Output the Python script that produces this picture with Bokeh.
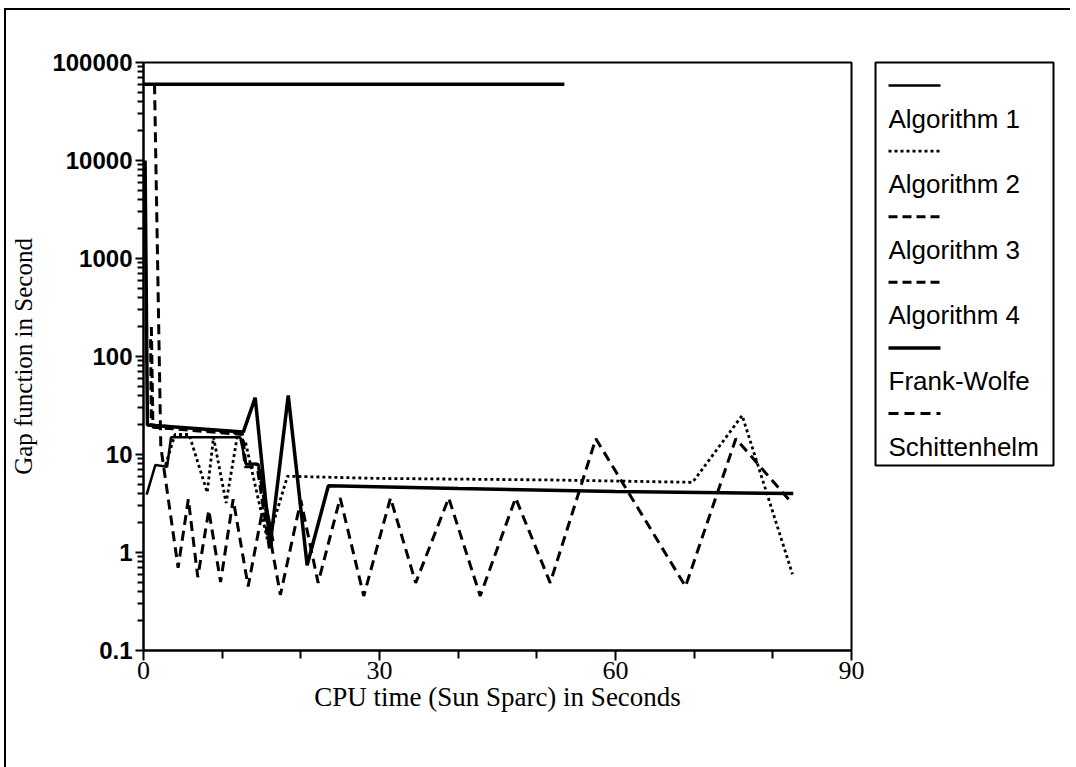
import numpy as np
from bokeh.plotting import figure
from bokeh.models import Range1d, FixedTicker, CustomJSTickFormatter
from bokeh.layouts import row
from bokeh.core.properties import value
from bokeh.embed import file_html
from bokeh.resources import INLINE

nan = float("nan")

# ---------------- data ----------------
series_names = ["Algorithm 1", "Algorithm 2", "Algorithm 3", "Algorithm 4",
                "Frank-Wolfe", "Schittenhelm"]

alg1_t = [0.4, 1.5, 3.0, 3.5, 12.3, 13.0, 14.6, 16.5]
alg1_gap = [3.9, 7.8, 7.5, 15.0, 15.0, 8.0, 8.0, 1.3]

alg2_t = [2.8, 4.0, 5.8, 8.1, 8.9, 10.5, 11.9, 13.0, 15.8, 18.3, 30.0, 51.7, 69.8, 76.1, 82.5]
alg2_gap = [7.8, 16.0, 16.0, 4.1, 15.0, 3.2, 15.0, 13.0, 1.3, 6.0, 5.7, 5.5, 5.2, 25.0, 0.6]

alg3_t = [0.9, 1.0, 12.5, 12.9, 14.6, 16.3]
alg3_gap = [150.0, 20.0, 16.5, 7.5, 7.5, 1.2]

alg4_t = [1.0, 1.2, 12.6, 13.0, 14.4, 16.0]
alg4_gap = [200.0, 19.0, 16.0, 8.0, 8.0, 1.1]

fw_t = [0.0, 53.5, nan, 0.2, 0.5, 12.7, 14.2, 16.1, 18.4, 20.8, 23.5, 40.0, 60.0, 82.6]
fw_gap = [60000.0, 60000.0, nan, 10000.0, 20.0, 17.0, 38.0, 1.2, 40.0, 0.74, 4.8, 4.5, 4.2, 4.0]

sch_t = [1.4, 2.2, 4.4, 5.7, 6.9, 8.3, 9.8, 11.4, 13.3, 15.3, 17.4, 20.0, 22.2, 25.0,
         28.0, 31.4, 34.6, 38.8, 42.8, 47.3, 51.7, 57.5, 68.9, 75.3, 82.0]
sch_gap = [60000.0, 12.0, 0.7, 3.5, 0.56, 2.7, 0.5, 3.5, 0.45, 3.2, 0.37, 3.4, 0.49, 3.6,
           0.36, 3.6, 0.49, 3.6, 0.36, 3.6, 0.49, 14.5, 0.45, 14.5, 3.5]

x_ticks = [0, 30, 60, 90]
x_minor = [10, 20, 40, 50, 70, 80]
y_ticks = [0.1, 1, 10, 100, 1000, 10000, 100000]
y_minor = [m * d for d in [0.1, 1, 10, 100, 1000, 10000] for m in range(2, 10)]

series_t = [alg1_t, alg2_t, alg3_t, alg4_t, fw_t, sch_t]
series_gap = [alg1_gap, alg2_gap, alg3_gap, alg4_gap, fw_gap, sch_gap]

# styles
dashes = ["solid", "3 3", "9 5", "9 5", "solid", "10 6"]
widths = [2.5, 2.8, 3, 3, 3.5, 3]

# ---------------- main plot ----------------
p = figure(frame_width=708, frame_height=588,
           min_border_left=137, min_border_right=23,
           min_border_top=50, min_border_bottom=119,
           x_range=Range1d(0, 90), y_range=Range1d(0.1, 100000),
           y_axis_type="log", toolbar_location=None, output_backend="svg")
p.grid.visible = False
p.outline_line_color = "black"
p.outline_line_width = 2
p.background_fill_color = "white"
p.border_fill_color = "white"

for t, g, d, w in zip(series_t, series_gap, dashes, widths):
    p.line(np.array(t, dtype=float), np.array(g, dtype=float),
           line_color="black", line_width=w, line_dash=d)

# x axis
xa = p.xaxis[0]
xa.ticker = FixedTicker(ticks=x_ticks, minor_ticks=x_minor)
xa.axis_label = "CPU time (Sun Sparc) in Seconds"
xa.axis_label_text_font = "Liberation Serif"
xa.axis_label_text_font_style = "normal"
xa.axis_label_text_font_size = "27px"
xa.axis_label_text_color = "black"
xa.axis_label_standoff = 0
xa.major_label_text_font = "Liberation Serif"
xa.major_label_text_font_size = "26px"
xa.major_label_text_color = "black"
xa.major_label_standoff = 1
xa.axis_line_width = 2
xa.major_tick_line_width = 2
xa.minor_tick_line_width = 2
xa.major_tick_out = 10
xa.major_tick_in = 0
xa.minor_tick_out = 8
xa.minor_tick_in = 0

# y axis
ya = p.yaxis[0]
ya.ticker = FixedTicker(ticks=y_ticks, minor_ticks=y_minor)
ya.formatter = CustomJSTickFormatter(code="return String(Number(tick.toPrecision(6)));")
ya.axis_label = "Gap function in Second"
ya.axis_label_text_font = "Liberation Serif"
ya.axis_label_text_font_style = "normal"
ya.axis_label_text_font_size = "25px"
ya.axis_label_text_color = "black"
ya.axis_label_standoff = 12
ya.major_label_text_font = "Liberation Sans"
ya.major_label_text_font_style = "bold"
ya.major_label_text_font_size = "24px"
ya.major_label_text_color = "black"
ya.major_label_standoff = 3
ya.axis_line_width = 2
ya.major_tick_line_width = 2
ya.minor_tick_line_width = 2
ya.major_tick_out = 8
ya.major_tick_in = 0
ya.minor_tick_out = 6
ya.minor_tick_in = 0

# ---------------- legend panel ----------------
leg_w, leg_h = 178, 403
leg = figure(frame_width=leg_w, frame_height=leg_h,
             min_border_left=1, min_border_right=17,
             min_border_top=52, min_border_bottom=302,
             x_range=Range1d(0, leg_w), y_range=Range1d(leg_h, 0),
             x_axis_location=None, y_axis_location=None,
             toolbar_location=None, output_backend="svg")
leg.grid.visible = False
leg.outline_line_color = "black"
leg.outline_line_width = 2
leg.border_fill_color = "white"

step = 65.6
for i, (name, d, w) in enumerate(zip(series_names, dashes, widths)):
    ys = 23 + step * i
    leg.line([13, 65], [ys, ys], line_color="black", line_width=w, line_dash=d)
leg.text(x=[13] * len(series_names),
         y=[56 + step * i for i in range(len(series_names))],
         text=series_names, text_baseline="middle", text_align="left",
         text_font=value("Liberation Sans"), text_font_size="26px",
         text_color="black")

layout = row(p, leg, margin=(8, 0, 0, 4),
             styles={"border-top": "2px solid black", "border-left": "2px solid black"})

open("out.html", "w").write(file_html(layout, INLINE))
